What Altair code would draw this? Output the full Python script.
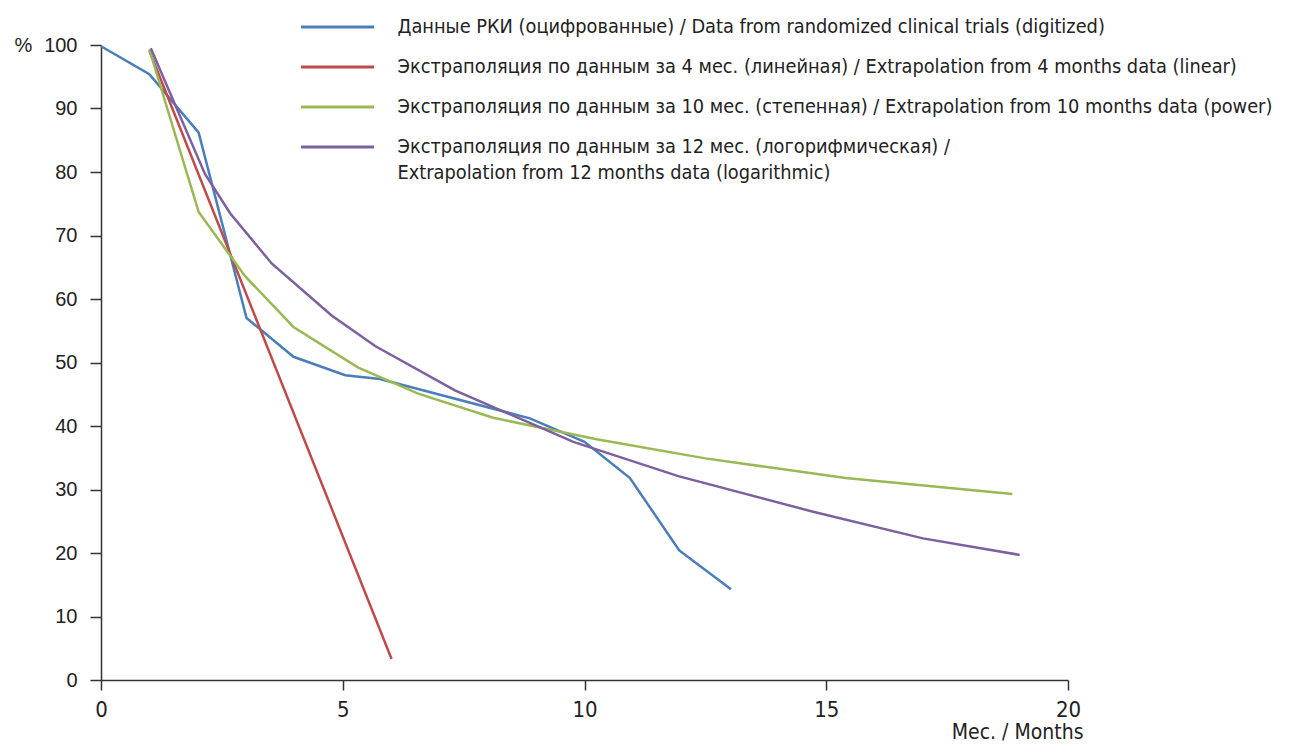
import altair as alt
import pandas as pd

labels = [
    "Данные РКИ (оцифрованные) / Data from randomized clinical trials (digitized)",
    "Экстраполяция по данным за 4 мес. (линейная) / Extrapolation from 4 months data (linear)",
    "Экстраполяция по данным за 10 мес. (степенная) / Extrapolation from 10 months data (power)",
    "Экстраполяция по данным за 12 мес. (логорифмическая) /\nExtrapolation from 12 months data (logarithmic)",
]
colors = ["#4A7EBB", "#BE4B48", "#98B954", "#7D60A0"]

blue_x = [0, 1.0, 2.02, 3.01, 3.98, 5.05, 5.77, 8.87, 10.0, 10.94, 11.96, 13.03]
blue_y = [99.8, 95.4, 86.2, 57.0, 50.9, 48.0, 47.4, 41.2, 37.5, 31.8, 20.4, 14.3]

red_x = [1.0, 6.01]
red_y = [99.1, 3.3]

green_x = [1.0, 2.02, 2.98, 3.98, 5.32, 6.56, 8.11, 10.25, 12.5, 15.4, 18.85]
green_y = [99.3, 73.7, 63.6, 55.6, 49.2, 45.1, 41.3, 37.9, 34.9, 31.8, 29.3]

purple_x = [1.03, 2.15, 2.67, 3.53, 4.77, 5.67, 7.32, 9.77, 11.94, 14.73, 17.0, 19.0]
purple_y = [99.5, 79.7, 73.5, 65.6, 57.4, 52.6, 45.6, 37.5, 32.1, 26.5, 22.3, 19.7]

x_ticks = [0, 5, 10, 15, 20]
y_ticks = [0, 10, 20, 30, 40, 50, 60, 70, 80, 90, 100]

rows = []
for lab, xs, ys in zip(labels, [blue_x, red_x, green_x, purple_x], [blue_y, red_y, green_y, purple_y]):
    for i, (a, b) in enumerate(zip(xs, ys)):
        rows.append({"series": lab, "x": a, "y": b, "i": i})
df = pd.DataFrame(rows)

NARROW = "DejaVu Sans Condensed"
REG = "Liberation Sans"

chart = alt.Chart(df).mark_line(strokeWidth=2.5).encode(
    x=alt.X("x:Q",
            scale=alt.Scale(domain=[0, 20], nice=False, zero=False),
            axis=alt.Axis(values=x_ticks, grid=False, title="Мес. / Months",
                          titleX=982, titleY=52, titleAlign="right", titleBaseline="middle",
                          titleFont=NARROW, titleFontSize=21, titleFontWeight="normal", titleColor="#222",
                          labelFont=NARROW, labelFontSize=22, labelColor="#222", labelPadding=9,
                          tickSize=10, tickColor="#333", domainColor="#333", domainWidth=1.5, tickWidth=1.5,
                          labelFlush=False)),
    y=alt.Y("y:Q",
            scale=alt.Scale(domain=[0, 100], nice=False),
            axis=alt.Axis(values=y_ticks, grid=False, title="%",
                          titleAngle=0, titleX=-87, titleY=0, titleAlign="left", titleBaseline="middle",
                          titleFont=REG, titleFontSize=20, titleFontWeight="normal", titleColor="#222",
                          labelFont=REG, labelFontSize=20, labelColor="#222", labelPadding=13,
                          tickSize=11, tickColor="#333", domainColor="#333", domainWidth=1.5, tickWidth=1.5)),
    color=alt.Color("series:N",
                    scale=alt.Scale(domain=labels, range=colors),
                    sort=labels,
                    legend=alt.Legend(title=None, orient="none", legendX=225.5, legendY=-29,
                                      symbolType="M-4,0H4", symbolSize=333, symbolStrokeWidth=3,
                                      labelFont=NARROW, labelFontSize=19.8, labelColor="#222",
                                      labelLimit=2000, labelOffset=49, rowPadding=19, padding=0,
                                      labelExpr="split(datum.label, '\\n')", labelBaseline="middle")),
    order=alt.Order("i:Q"),
).properties(
    width=967, height=635,
    background="white",
    autosize=alt.AutoSizeParams(type="none"),
    padding={"left": 93, "top": 37, "right": 212, "bottom": 64},
).configure(
    view={"strokeWidth": 0},
    style={"guide-label": {"lineHeight": 26}},
)

chart.save("out.html", embed_options={"renderer": "svg", "actions": False})
